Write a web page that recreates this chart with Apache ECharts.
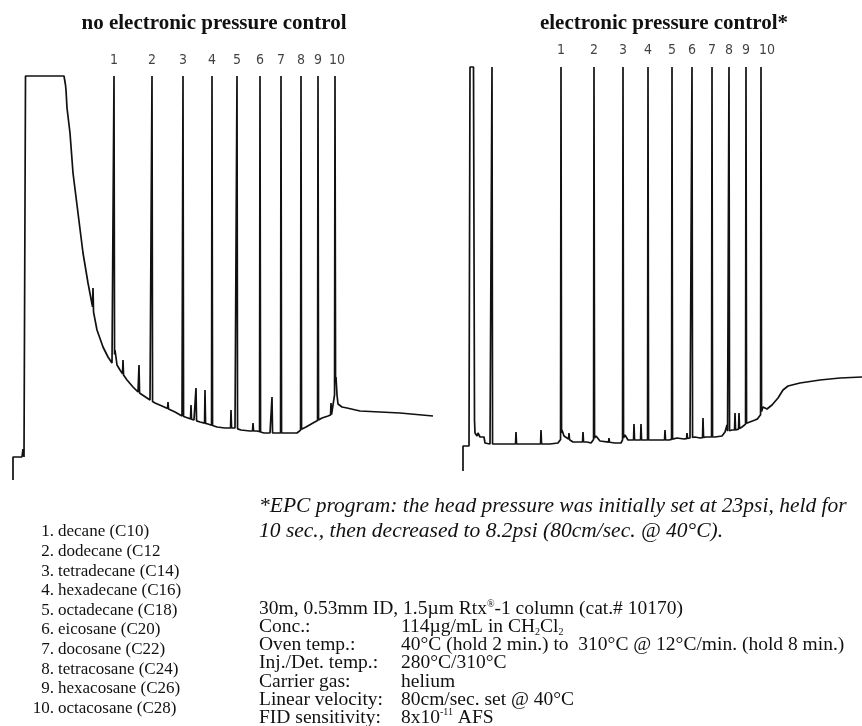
<!DOCTYPE html>
<html><head><meta charset="utf-8">
<script src="https://cdn.jsdelivr.net/npm/echarts@6/dist/echarts.min.js"></script>
<style>html,body{margin:0;padding:0;background:#fff}#c{width:862px;height:726px}</style>
</head><body><div id="c"></div>
<script>
// ---------------- DATA (x = retention units, y = detector response units) ----------------
const panelTitles = ['no electronic pressure control', 'electronic pressure control*'];
const peakLabels = ['1','2','3','4','5','6','7','8','9','10'];
const compounds = ['decane (C10)','dodecane (C12','tetradecane (C14)','hexadecane (C16)','octadecane (C18)',
  'eicosane (C20)','docosane (C22)','tetracosane (C24)','hexacosane (C26)','octacosane (C28)'];

// --- no EPC chromatogram: baseline/solvent trace, labelled peak times, minor peaks [time, apex]
const noEpcTrace = [[0,0],[0,23],[9,23],[10,31],[11,23],[12,23],[12.5,404],[51,404],[52.5,395],[53,390],[54,372],
  [57,347],[60,307],[65,267],[70,227],[75,197],[79,176],[84,150],[90,133],[95,123],[99,117],[100.5,115],[102,130],
  [103,128],[104,115],[107,110],[114,100],[120,93],[125,88],[131,84],[137,80],[142,77],[149,74],[162,68],[169,64],
  [175,62],[181,60],[187,58],[195,56],[204,53],[212,52],[222,52],[228,50],[237,49],[244,49],[251,47],[257,47],
  [264,47],[272,47],[284,47],[290,52],[293,53],[300,57],[309,62],[315,64],[320,66],[323,103],[324,85],[325,76],
  [329,73],[334,72],[347,69],[367,68],[387,67],[420,64]];
const noEpcPeakTimes = [101,139,170,199,224,247,268,288,305,322];
const noEpcOffScale = 404;
const noEpcMinorPeaks = [[80,192],[110,120],[126,115],[155,78],[178,75],[183,92],[192,90],[218,70],[240,57],[259,83],[318,77]];

// --- EPC chromatogram
const epcTrace = [[0,9],[0,34],[6,34],[7,413],[10.5,413],[11.5,60],[12,47],[14,44],[15,47],[17,43],[19,45],[21,43],
  [22,37],[27,36],[31,36],[47,36],[57,36],[72,36],[87,36],[95,37],[97,37],[99,50],[101,44],[110,38],[124,38],
  [128,37],[133,44],[137,39],[152,37],[158,37],[162,45],[165,40],[174,40],[182,40],[189,40],[199,40],[206,40],
  [214,42],[221,41],[227,42],[232,43],[237,42],[243,43],[246,43],[252,43],[259,44],[262,48],[269,50],[274,50],
  [279,53],[285,58],[292,60],[296.5,62],[300,73],[304,71],[309,75],[315,82],[320,90],[325,94],[337,97],[357,100],
  [377,102],[399,103]];
const epcPeakTimes = [98,131,160,185,209,229,249,266,283,298];
const epcOffScale = 413;
const epcMinorPeaks = [[29,413],[53,48],[78,50],[106,47],[120,48],[146,42],[171,56],[178,56],[202,50],[224,47],
  [240,62],[264,55],[272,67],[276,67],[295,63]];

const labelLevel = [420, 430];

const epcNote = ['*EPC program: the head pressure was initially set at 23psi, held for',
  '10 sec., then decreased to 8.2psi (80cm/sec. @ 40°C).'];
const condHeader = '30m, 0.53mm ID, 1.5µm Rtx{sup|®}-1 column (cat.# 10170)';
const condNames = ['Conc.:','Oven temp.:','Inj./Det. temp.:','Carrier gas:','Linear velocity:','FID sensitivity:'];
const condValues = ['114µg/mL in CH{sub|2}Cl{sub|2}','40°C (hold 2 min.) to  310°C @ 12°C/min. (hold 8 min.)',
  '280°C/310°C','helium','80cm/sec. set @ 40°C','8x10{sup|-11} AFS'];

// ---------------- BUILD ----------------
function interp(tr, t) {
  for (let i = 1; i < tr.length; i++) {
    if (tr[i][0] >= t && tr[i-1][0] <= t) {
      const a = tr[i-1], b = tr[i];
      if (b[0] === a[0]) return b[1];
      return a[1] + (b[1]-a[1]) * (t-a[0]) / (b[0]-a[0]);
    }
  }
  return tr[tr.length-1][1];
}
function build(trace, peaks) {
  const pts = trace.map((p, i) => [p[0], p[1], i * 10]);
  peaks.forEach(([t, a]) => {
    pts.push([t-0.45, interp(trace, t-0.45), 0]);
    pts.push([t, a, 0]);
    pts.push([t+0.55, interp(trace, t+0.55), 0]);
  });
  pts.sort((p, q) => p[0] - q[0] || p[2] - q[2]);
  return pts.map(p => [p[0], p[1]]);
}
const noEpcLine = build(noEpcTrace, noEpcPeakTimes.map(t => [t, noEpcOffScale]).concat(noEpcMinorPeaks));
const epcLine = build(epcTrace, epcPeakTimes.map(t => [t, epcOffScale]).concat(epcMinorPeaks));

const serif = '"Liberation Serif", "Times New Roman", serif';
const narrow = '"Liberation Sans Narrow", "DejaVu Sans Condensed", "Liberation Sans", Arial, sans-serif';
const ink = '#111';

const graphic = [];
compounds.forEach((c, i) => {
  const y = 532 + i * 19.6;
  graphic.push({type:'text', style:{text:(i+1)+'.', x:54, y, font:'17px '+serif, fill:ink, textAlign:'right', textVerticalAlign:'middle'}});
  graphic.push({type:'text', style:{text:c, x:58, y, font:'17px '+serif, fill:ink, textAlign:'left', textVerticalAlign:'middle'}});
});
epcNote.forEach((t, i) => {
  graphic.push({type:'text', style:{text:t, x:259, y:506 + i*25, font:'italic 21.5px '+serif, fill:ink, textVerticalAlign:'middle'}});
});
const rich = {
  n: {fontFamily: serif, fontSize: 19.5, fill: ink, lineHeight: 20},
  sub: {fontFamily: serif, fontSize: 10, verticalAlign: 'bottom', lineHeight: 20},
  sup: {fontFamily: serif, fontSize: 10, verticalAlign: 'top', lineHeight: 20}
};
const wrapRich = s => s.split(/(\{[a-z]+\|[^}]*\})/).filter(x => x).map(x => x.startsWith('{') ? x : '{n|' + x + '}').join('');
graphic.push({type:'text', style:{text:wrapRich(condHeader), x:259, y:609, rich, fill:ink, textVerticalAlign:'middle'}});
condNames.forEach((n, i) => {
  const y = 609 + (i+1) * 18.1;
  graphic.push({type:'text', style:{text:wrapRich(n), x:259, y, rich, fill:ink, textVerticalAlign:'middle'}});
  graphic.push({type:'text', style:{text:wrapRich(condValues[i]), x:401, y, rich, fill:ink, textVerticalAlign:'middle'}});
});

const labelSeries = (idx, times, level, lastShift) => ({
  type:'scatter', xAxisIndex:idx, yAxisIndex:idx, symbolSize:1, itemStyle:{color:'rgba(0,0,0,0)'},
  data: times.map((t, i) => ({value:[t, level, peakLabels[i]], label: i === times.length-1 ? {offset:[lastShift,0]} : undefined})),
  label:{show:true, position:'inside', formatter: p => p.value[2], fontFamily: narrow, fontSize:14, color: ink}
});

const chart = echarts.init(document.getElementById('c'), null, {renderer:'canvas'});
chart.setOption({
  animation: false,
  backgroundColor: '#fff',
  title: [
    {text: panelTitles[0], left: 209, top: 8, textAlign: 'center', textStyle:{fontFamily: serif, fontWeight:'bold', fontSize:21, color: ink}},
    {text: panelTitles[1], left: 659, top: 8, textAlign: 'center', textStyle:{fontFamily: serif, fontWeight:'bold', fontSize:21, color: ink}}
  ],
  grid: [
    {left: 13, top: 40, width: 420, height: 440},
    {left: 463, top: 40, width: 399, height: 440}
  ],
  xAxis: [
    {type:'value', gridIndex:0, min:0, max:420, show:false},
    {type:'value', gridIndex:1, min:0, max:399, show:false}
  ],
  yAxis: [
    {type:'value', gridIndex:0, min:0, max:440, show:false},
    {type:'value', gridIndex:1, min:0, max:440, show:false}
  ],
  series: [
    {type:'line', xAxisIndex:0, yAxisIndex:0, data: noEpcLine, showSymbol:false, lineStyle:{color:ink, width:1.7}, clip:false},
    {type:'line', xAxisIndex:1, yAxisIndex:1, data: epcLine, showSymbol:false, lineStyle:{color:ink, width:1.7}, clip:false},
    labelSeries(0, noEpcPeakTimes, labelLevel[0], 2),
    labelSeries(1, epcPeakTimes, labelLevel[1], 6)
  ],
  graphic
});
</script></body></html>
